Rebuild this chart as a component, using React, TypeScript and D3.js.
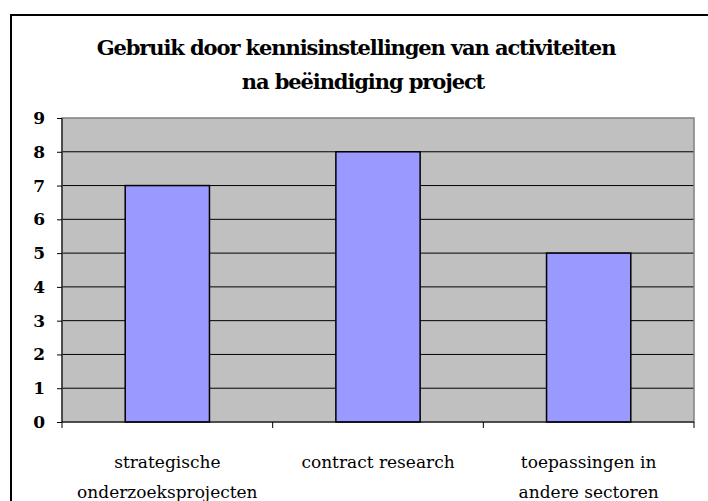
import React, { useEffect, useRef } from 'react';
import * as d3 from 'd3';

const categories = [
  ['strategische', 'onderzoeksprojecten'],
  ['contract research'],
  ['toepassingen in', 'andere sectoren'],
];
const values = [7, 8, 5];
const yTicks = [0, 1, 2, 3, 4, 5, 6, 7, 8, 9];
const titleLines = ['Gebruik door kennisinstellingen van activiteiten', 'na beëindiging project'];

const W = 708, H = 501;
const FONT = "'DejaVu Serif', serif";

export default function App() {
  const ref = useRef<SVGSVGElement>(null);

  useEffect(() => {
    const svg = d3.select(ref.current);
    svg.selectAll('*').remove();

    const margin = { top: 118, left: 62, right: 14, bottom: 79 };
    const w = W - margin.left - margin.right;
    const h = H - margin.top - margin.bottom;

    // outer chart frame
    svg.append('rect').attr('x', 11).attr('y', 15).attr('width', 720).attr('height', 520)
      .attr('fill', 'white').attr('stroke', 'black').attr('stroke-width', 2);

    svg.append('text').attr('x', 358).attr('y', 55)
      .attr('text-anchor', 'middle').style('font-family', FONT)
      .attr('font-weight', 'bold').attr('font-size', 21).attr('letter-spacing', -1.1)
      .selectAll('tspan').data(titleLines).join('tspan')
      .attr('x', (d, i) => (i === 0 ? 356 : 363)).attr('dy', (d, i) => (i === 0 ? 0 : 34)).text(d => d);

    const g = svg.append('g').attr('transform', `translate(${margin.left},${margin.top})`);

    const x = d3.scaleBand().domain(values.map((_, i) => String(i))).range([0, w]).paddingInner(0.6).paddingOuter(0.3);
    const xOuter = d3.scaleBand().domain(values.map((_, i) => String(i))).range([0, w]);
    const y = d3.scaleLinear().domain([0, 9]).range([h, 0]);

    g.append('rect').attr('width', w).attr('height', h).attr('fill', '#c0c0c0');

    g.selectAll('.grid').data(yTicks.slice(1, -1)).join('line').attr('class', 'grid')
      .attr('x1', 0).attr('x2', w).attr('y1', d => y(d)).attr('y2', d => y(d))
      .attr('stroke', 'black').attr('stroke-width', 1);

    g.append('rect').attr('width', w).attr('height', h).attr('fill', 'none')
      .attr('stroke', '#808080').attr('stroke-width', 1.5);

    g.selectAll('.bar').data(values).join('rect').attr('class', 'bar')
      .attr('x', (_, i) => x(String(i))!).attr('y', d => y(d))
      .attr('width', x.bandwidth()).attr('height', d => h - y(d))
      .attr('fill', '#9999ff').attr('stroke', 'black').attr('stroke-width', 1.5);

    // y axis
    const ya = g.append('g').call(d3.axisLeft(y).tickValues(yTicks).tickSize(5).tickPadding(12).tickFormat(d3.format('d')));
    ya.select('.domain').attr('stroke', 'black').attr('d', `M0,0V${h}`);
    ya.selectAll('text').style('font-family', FONT).attr('font-size', 17).attr('font-weight', 'bold').attr('fill', 'black');

    // x axis
    const xa = g.append('g').attr('transform', `translate(0,${h})`);
    xa.append('line').attr('x1', 0).attr('x2', w).attr('stroke', 'black');
    const bounds = [0, ...values.map((_, i) => xOuter(String(i))! + xOuter.bandwidth())];
    xa.selectAll('.tick').data(bounds).join('line').attr('class', 'tick')
      .attr('x1', d => d).attr('x2', d => d).attr('y1', 0).attr('y2', 6).attr('stroke', 'black');

    xa.selectAll('.lbl').data(categories).join('text').attr('class', 'lbl')
      .attr('text-anchor', 'middle').style('font-family', FONT).attr('font-size', 17)
      .attr('transform', (_, i) => `translate(${xOuter(String(i))! + xOuter.bandwidth() / 2},46)`)
      .selectAll('tspan').data(d => d).join('tspan')
      .attr('x', 0).attr('dy', (_, i) => (i === 0 ? 0 : 30)).text(d => d);
  }, []);

  return <svg ref={ref} width={W} height={H} style={{ position: 'absolute', left: 0, top: 0 }} />;
}
